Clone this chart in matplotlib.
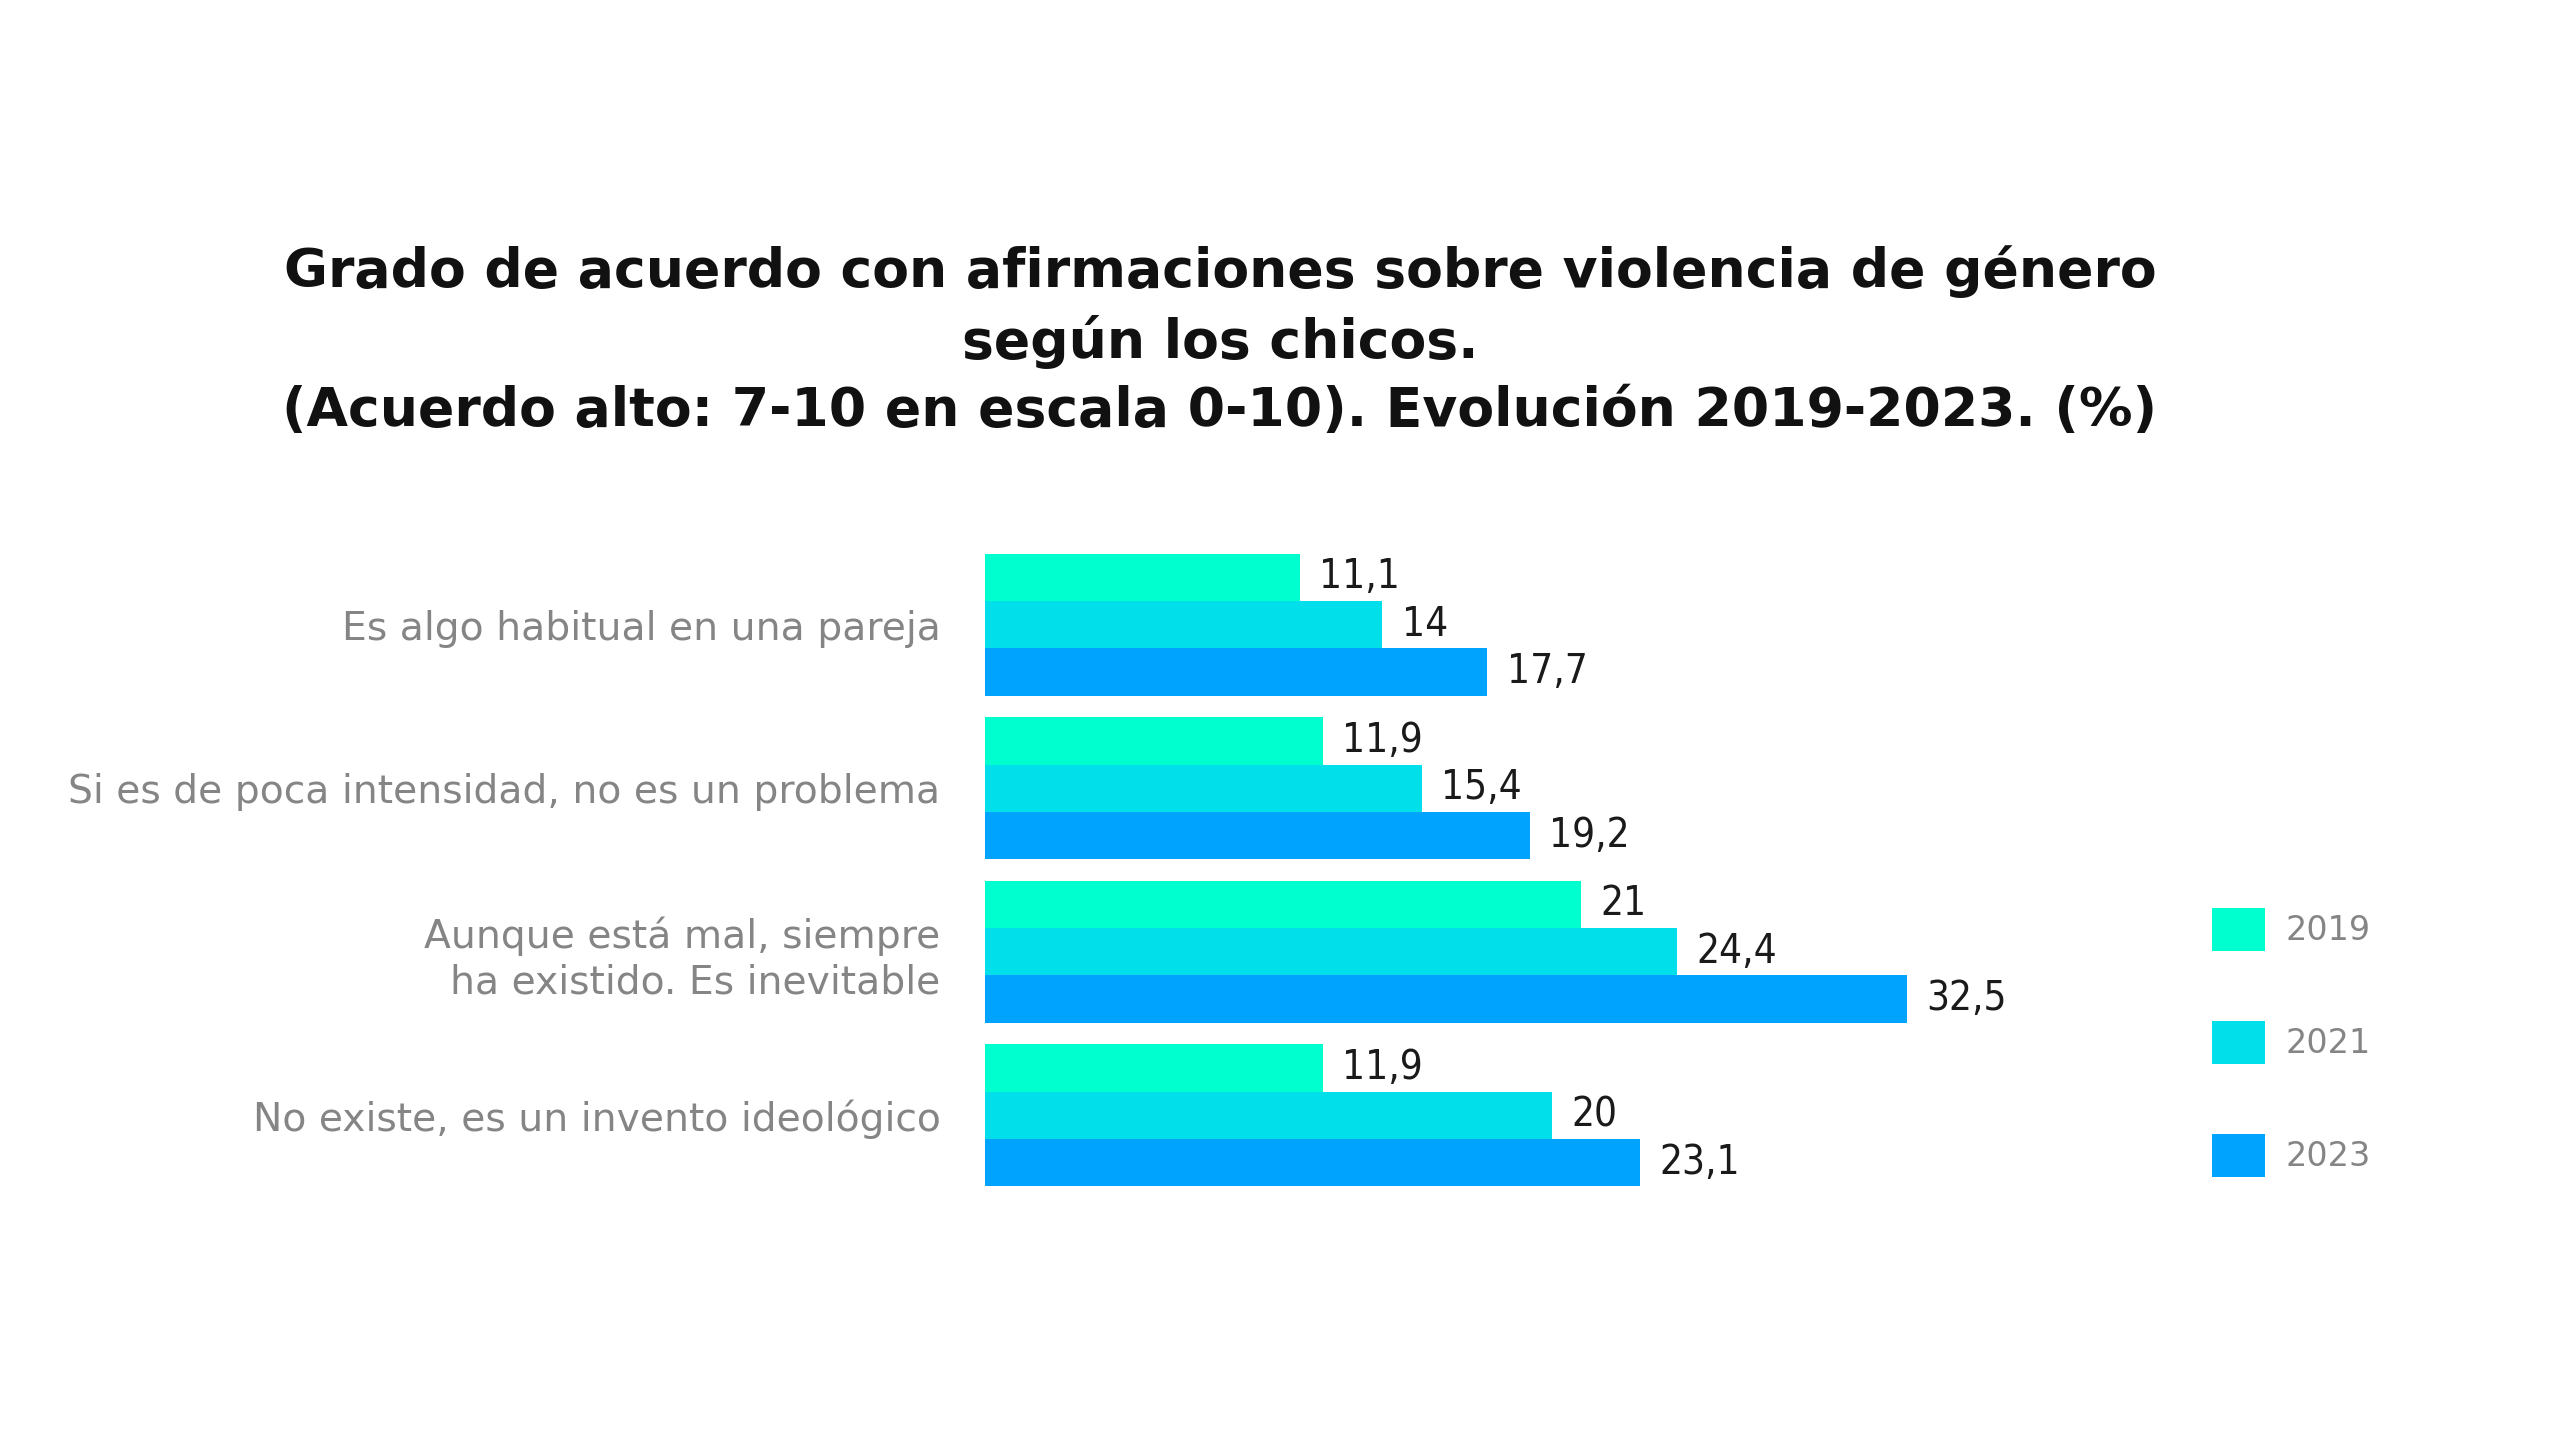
import matplotlib
matplotlib.use("Agg")
import matplotlib.pyplot as plt
from matplotlib.patches import Patch
from matplotlib import font_manager
import numpy as np

# datos
categorias = [
    "Es algo habitual en una pareja",
    "Si es de poca intensidad, no es un problema",
    "Aunque está mal, siempre\nha existido. Es inevitable",
    "No existe, es un invento ideológico",
]
anios = ["2019", "2021", "2023"]
v2019 = [11.1, 11.9, 21.0, 11.9]
v2021 = [14.0, 15.4, 24.4, 20.0]
v2023 = [17.7, 19.2, 32.5, 23.1]
etiquetas = [
    ["11,1", "11,9", "21", "11,9"],
    ["14", "15,4", "24,4", "20"],
    ["17,7", "19,2", "32,5", "23,1"],
]

colores = ["#00FFCE", "#00DFEA", "#00A4FF"]
gris = "#858585"

nombres = {f.name for f in font_manager.fontManager.ttflist}
if "Liberation Sans Narrow" in nombres:
    valfont = ["Liberation Sans Narrow"]
    valstretch = "normal"
else:
    valfont = ["DejaVu Sans"]
    valstretch = "condensed"

fig = plt.figure(figsize=(25.6, 14.4), dpi=100)
W, H = 2560, 1440
x0, x1 = 985, 2150
ytop, ybot = 543, 1197
ax = fig.add_axes([x0 / W, 1 - ybot / H, (x1 - x0) / W, (ybot - ytop) / H])

y = np.arange(len(categorias))
h = 0.29
series = [v2019, v2021, v2023]
for k, vals in enumerate(series):
    pos = y + (k - 1) * h
    ax.barh(pos, vals, height=h, color=colores[k], label=anios[k])
    for p, v, t in zip(pos, vals, etiquetas[k]):
        ax.annotate(t, (v, p), xytext=(14, 0), textcoords="offset points",
                    va="center", ha="left", fontsize=29, color="#1a1a1a",
                    family=valfont, fontstretch=valstretch)

ax.set_xlim(0, (x1 - x0) / 28.37)
ax.set_ylim(3.5, -0.5)
ax.set_yticks(y)
ax.set_yticklabels(categorias, fontsize=28.3, color=gris, linespacing=1.25)
ax.tick_params(axis="y", length=0, pad=32)
ax.set_xticks([])
for s in ax.spines.values():
    s.set_visible(False)

fig.text(1220 / W, 1 - 341 / H,
         "Grado de acuerdo con afirmaciones sobre violencia de género\n"
         "según los chicos.\n"
         "(Acuerdo alto: 7-10 en escala 0-10). Evolución 2019-2023. (%)",
         ha="center", va="center", fontsize=38.6, fontweight="bold",
         color="#111111", linespacing=1.39)

handles = [Patch(facecolor=c, edgecolor="none") for c in colores]
fig.legend(handles, anios, loc="upper left",
           bbox_to_anchor=(2182 / W, 1 - 878 / H), frameon=False,
           fontsize=24, labelcolor=gris, handlelength=1.6, handleheight=1.6,
           labelspacing=2.1, handletextpad=0.6)

fig.savefig("out.png", dpi=100, facecolor="white")
